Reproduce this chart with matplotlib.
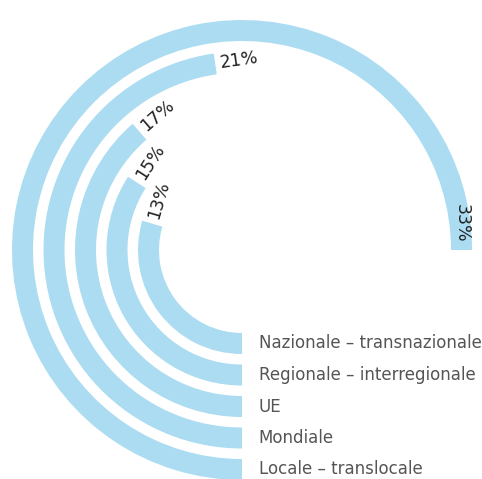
import numpy as np
import matplotlib.pyplot as plt

# rings from inner to outer
categories = ['Nazionale – transnazionale', 'Regionale – interregionale',
              'UE', 'Mondiale', 'Locale – translocale']
values = [13, 15, 17, 21, 33]
pct_labels = ['13%', '15%', '17%', '21%', '33%']

bar_color = '#abdcf1'
full_scale = 44.0  # 33% spans three quarters of the circle

fig = plt.figure(figsize=(4.82, 4.79), dpi=100)
# centre of the rings at pixel (242, 250) from top-left, radius 240 px
R = 240
cx, cy = 242, 250
ax = fig.add_axes([(cx - R) / 482, (479 - cy - R) / 479, 2 * R / 482, 2 * R / 479],
                  projection='polar')
ax.set_theta_zero_location('S')
ax.set_theta_direction(-1)
ax.set_ylim(0, R)
ax.axis('off')

radii = 93.5 + 31.5 * np.arange(len(values))
ring_w = 21

thetas = np.array(values) / full_scale * 2 * np.pi
ax.barh(radii, thetas, left=0, height=ring_w, color=bar_color, edgecolor='none')

for i, (r, th, lab) in enumerate(zip(radii, thetas, pct_labels)):
    # tangential rotation in screen degrees
    phi = np.degrees(-np.pi / 2 - th)
    rot = phi - 90
    rot = (rot + 180) % 360 - 180
    if i == len(values) - 1:
        ax.text(th - 7 / r, r, lab, rotation=rot, rotation_mode='anchor',
                ha='right', va='center', fontsize=12.5, color='#222222')
    else:
        ax.text(th + 5 / r, r, lab, rotation=rot, rotation_mode='anchor',
                ha='left', va='center', fontsize=12.5, color='#222222')

for r, name in zip(radii, categories):
    ax.annotate(name, xy=(0, r), xytext=(12, 0), textcoords='offset points',
                ha='left', va='center', fontsize=12, color='#555555')

fig.savefig('out.png', dpi=100)
